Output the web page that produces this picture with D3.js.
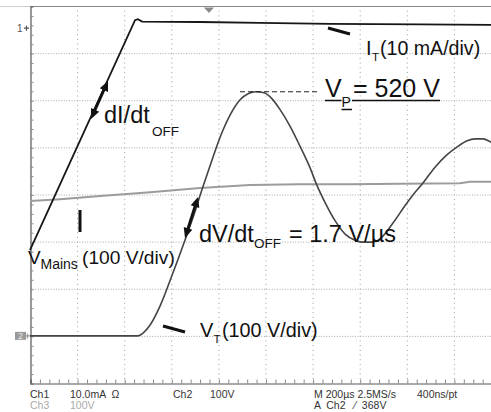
<!DOCTYPE html>
<html><head><meta charset="utf-8">
<script src="https://cdn.jsdelivr.net/npm/d3@7"></script>
<style>
html,body{margin:0;padding:0;background:#fff;overflow:hidden}
svg{display:block}
text{font-family:"Liberation Sans",Arial,Helvetica,sans-serif}
.scope{font-family:"Liberation Sans Narrow","Arial Narrow","Liberation Sans",sans-serif;white-space:pre}
</style></head>
<body>
<svg id="c" width="491" height="412"></svg>
<script>
// ---- data (screen divisions: x 0..10 time, y 0..8 vertical) ----
const itTime  = [0.00,2.23,2.29,2.38,3.61,4.88,6.37,8.28,9.79,10.0];
const itValue = [2.82,7.70,7.72,7.67,7.66,7.64,7.62,7.61,7.60,7.60];

const vtTime  = [0,2.29,2.40,2.55,2.76,3.01,3.29,3.50,3.65,3.82,4.03,4.25,4.46,4.63,4.80,4.97,5.14,5.31,5.52,5.73,5.94,6.09,6.26,6.48,6.69,6.90,7.05,7.26,7.43,7.71,7.96,8.13,8.34,8.60,8.85,9.07,9.28,9.45,9.62,9.79,10.0];
const vtValue = [1.00,1.00,1.06,1.23,1.63,2.27,3.03,3.63,4.10,4.60,5.20,5.69,6.01,6.14,6.18,6.16,6.03,5.80,5.45,5.03,4.58,4.20,3.84,3.44,3.16,3.03,2.99,2.99,3.06,3.40,3.76,3.99,4.24,4.58,4.84,5.01,5.14,5.18,5.18,5.11,5.03];

const vmTime  = [0,0.64,1.49,2.55,3.61,4.67,5.73,6.79,7.86,9.13,9.34,10.0];
const vmValue = [3.86,3.90,3.97,4.05,4.14,4.20,4.22,4.22,4.23,4.24,4.27,4.27];

const vpLevel = 6.18;          // V_P peak level (div)
const ch1Ref = 7.53, ch2Ref = 1.0;  // channel markers (div)
const trigTime = 3.8;

const xDivs = d3.range(0, 11);
const yDivs = d3.range(0, 9);

const footerRow1 = ["Ch1","10.0mA  Ω","Ch2","100V"];
const footerRow2 = ["Ch3","100V"];

// ---- scales ----
const svg = d3.select("#c");
const x = d3.scaleLinear().domain([0,10]).range([30,501]);
const y = d3.scaleLinear().domain([0,8]).range([383,6]);

// grid
const grid = svg.append("g");
grid.selectAll("line.v").data(xDivs.slice(1)).join("line")
  .attr("x1",d=>x(d)+0.5).attr("x2",d=>x(d)+0.5).attr("y1",y(8)).attr("y2",y(0))
  .attr("stroke","#999").attr("stroke-width",1).attr("stroke-dasharray","1,3.71");
grid.selectAll("line.h").data(yDivs.slice(1,8)).join("line")
  .attr("x1",x(0)).attr("x2",x(10)).attr("y1",d=>y(d)+0.5).attr("y2",d=>y(d)+0.5)
  .attr("stroke","#aaa").attr("stroke-width",1).attr("stroke-dasharray","1,1.6");

// top line
svg.append("line").attr("x1",x(0)).attr("x2",x(10)).attr("y1",y(8)+0.5).attr("y2",y(8)+0.5)
  .attr("stroke","#8a8a8a");
svg.append("line").attr("x1",0).attr("x2",x(0)).attr("y1",y(8)+0.5).attr("y2",y(8)+0.5)
  .attr("stroke","#cfcfcf");

// axes (borders with minor ticks)
const minorX = d3.range(0,50).map(i=>i/5);
const minorY = d3.range(0,40).map(i=>i/5);
const bottom = svg.append("g").attr("transform",`translate(0.5,${y(0)+0.5})`)
  .call(d3.axisTop(x).tickValues(minorX).tickSize(4).tickFormat(""));
const left = svg.append("g").attr("transform",`translate(${x(0)+0.5},0.5)`)
  .call(d3.axisRight(y).tickValues(minorY).tickSize(3).tickFormat(""));
[bottom,left].forEach(g=>{
  g.select(".domain").attr("stroke","#555").attr("stroke-width",1.2);
  g.selectAll(".tick line").attr("stroke","#8a8a8a");
});

// traces
const vm = d3.zip(vmTime, vmValue);
svg.append("path").datum(vm).attr("d",d3.line().x(d=>x(d[0])).y(d=>y(d[1]))).attr("fill","none")
  .attr("stroke","#9c9c9c").attr("stroke-width",2);
const vt = d3.zip(vtTime, vtValue);
svg.append("path").datum(vt).attr("d",d3.line().x(d=>x(d[0])).y(d=>y(d[1])).curve(d3.curveMonotoneX)).attr("fill","none")
  .attr("stroke","#444").attr("stroke-width",1.6);
const it = d3.zip(itTime, itValue);
svg.append("path").datum(it).attr("d",d3.line().x(d=>x(d[0])).y(d=>y(d[1]))).attr("fill","none")
  .attr("stroke","#161616").attr("stroke-width",1.8);

// trigger marker at top
const tx = x(trigTime);
svg.append("path").attr("d",`M${tx-5},${y(8)+1.5}L${tx+5},${y(8)+1.5}L${tx},${y(8)+7}Z`).attr("fill","#8a8a8a");

// channel markers
svg.append("text").attr("x",17).attr("y",y(ch1Ref)+3.5).attr("font-size",10).attr("fill","#555").text("1");
svg.append("path").attr("d",`M24,${y(ch1Ref)}H29M26.5,${y(ch1Ref)-2.5}V${y(ch1Ref)+2.5}`).attr("stroke","#555").attr("stroke-width",1.2);
svg.append("rect").attr("x",15).attr("y",y(ch2Ref)-4).attr("width",11).attr("height",8).attr("fill","#999");
svg.append("text").attr("x",18).attr("y",y(ch2Ref)+3.5).attr("font-size",9).attr("fill","#e8e8e8").text("2");
svg.append("path").attr("d",`M25,${y(ch2Ref)}H30M27.5,${y(ch2Ref)-2.5}V${y(ch2Ref)+2.5}`).attr("stroke","#999").attr("stroke-width",1.2);

// dashed V_P line
svg.append("line").attr("x1",240).attr("x2",318).attr("y1",y(vpLevel)).attr("y2",y(vpLevel))
  .attr("stroke","#222").attr("stroke-width",1.2).attr("stroke-dasharray","5,3");

// arrows
function dbl(x1,y1,x2,y2){
  const a=Math.atan2(y2-y1,x2-x1), L=10, W=4.5;
  const ux=Math.cos(a), uy=Math.sin(a);
  svg.append("line").attr("x1",x1+ux*6).attr("y1",y1+uy*6).attr("x2",x2-ux*6).attr("y2",y2-uy*6)
    .attr("stroke","#111").attr("stroke-width",2.8);
  [[x2,y2,1],[x1,y1,-1]].forEach(([px,py,s])=>{
    const bx=px-s*ux*L, by=py-s*uy*L;
    svg.append("path").attr("d",`M${px},${py}L${bx-uy*W},${by+ux*W}L${bx+uy*W},${by-ux*W}Z`).attr("fill","#111");
  });
}
dbl(91,119,108,81);
dbl(185,238,198,197);

// leader lines
const lead=(a,b,c,d)=>svg.append("line").attr("x1",a).attr("y1",b).attr("x2",c).attr("y2",d).attr("stroke","#111").attr("stroke-width",3);
lead(328,28,350,34);
lead(80,210,80,232);
lead(163,326,185,332);

// annotation text
function t(xp,yp,size,str,fill){
  return svg.append("text").attr("x",xp).attr("y",yp).attr("font-size",size).attr("fill",fill||"#111").text(str);
}
t(104,123,23.5,"dI/dt"); t(152,135.5,13.5,"OFF");
t(366,55,20,"I"); t(372,61,11.5,"T"); t(380,55,19.6,"(10 mA/div)");
t(325,97,25,"V"); t(341.5,107,14,"P"); t(353,97,25,"= 520 V");
svg.append("path").attr("d","M325,100.5H341.5M341.5,109.5H352M352,100.5H440").attr("stroke","#111").attr("stroke-width",1.5);
t(28,264,19,"V"); t(40.5,268.5,14,"Mains"); t(82,264,19.2,"(100 V/div)");
t(199,242,23.5,"dV/dt"); t(254,248,13.5,"OFF"); t(289,242,23.5,"= 1.7 V/µs");
t(200,337,20,"V"); t(213.5,342.5,11.5,"T"); t(222,337,19.8,"(100 V/div)");

// footer (scope readout)
const fx1=[30,70,173,210];
footerRow1.forEach((s,i)=>svg.append("text").attr("class","scope").attr("x",fx1[i]).attr("y",398).attr("font-size",10.5).attr("fill","#333").text(s));
footerRow2.forEach((s,i)=>svg.append("text").attr("class","scope").attr("x",fx1[i]).attr("y",408.5).attr("font-size",10.5).attr("fill","#aaa").text(s));
svg.append("text").attr("class","scope").attr("x",314).attr("y",398).attr("font-size",10.5).attr("fill","#333").text("M 200µs 2.5MS/s");
svg.append("text").attr("class","scope").attr("x",417).attr("y",398).attr("font-size",10.5).attr("fill","#333").text("400ns/pt");
svg.append("text").attr("class","scope").attr("x",314).attr("y",408.5).attr("font-size",10.5).attr("fill","#333").text("A  Ch2   ⁄  368V");
</script>
</body></html>
